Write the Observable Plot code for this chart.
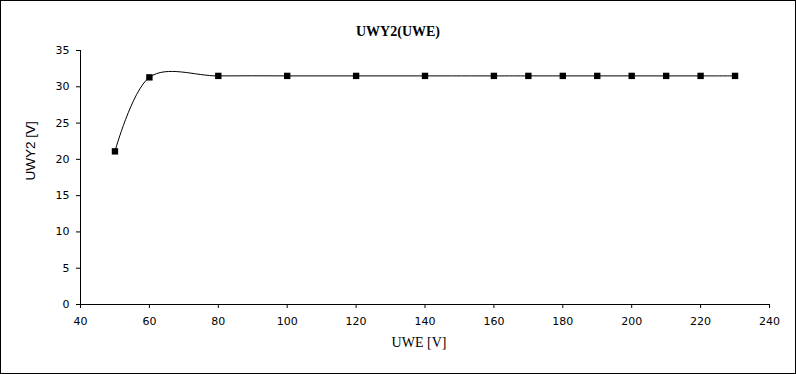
<!DOCTYPE html>
<html>
<head>
<meta charset="utf-8">
<script src="https://cdn.jsdelivr.net/npm/d3@7"></script>
<script src="https://cdn.jsdelivr.net/npm/@observablehq/plot@0.6"></script>
<style>
  html, body { margin: 0; padding: 0; background: #fff; }
  #frame { width: 794px; height: 372px; border: 1px solid #000; background: #fff; overflow: hidden; }
  #frame svg { display: block; }
</style>
</head>
<body>
<div id="frame"></div>
<script>
const title = "UWY2(UWE)";
const xLabel = "UWE [V]";
const yLabel = "UWY2 [V]";
const uwe  = [50, 60, 80, 100, 120, 140, 160, 170, 180, 190, 200, 210, 220, 230];
const uwy2 = [21.1, 31.3, 31.5, 31.5, 31.5, 31.5, 31.5, 31.5, 31.5, 31.5, 31.5, 31.5, 31.5, 31.5];
const xTicks = [40, 60, 80, 100, 120, 140, 160, 180, 200, 220, 240];
const yTicks = [0, 5, 10, 15, 20, 25, 30, 35];

const data = uwe.map((x, i) => ({x, y: uwy2[i]}));

const chart = Plot.plot({
  width: 794,
  height: 372,
  marginLeft: 79,
  marginRight: 26,
  marginTop: 49,
  marginBottom: 69,
  style: {background: "#fff", color: "#000", fontFamily: "DejaVu Sans", fontSize: "11px"},
  x: {domain: [40, 240]},
  y: {domain: [0, 35]},
  marks: [
    Plot.axisX({ticks: xTicks, tickSize: 4, tickPadding: 9, label: null, stroke: "#000", fill: "#000"}),
    Plot.axisY({ticks: yTicks, tickSize: 4, tickPadding: 7, label: null, stroke: "#000", fill: "#000"}),
    Plot.ruleX([40], {stroke: "#000", strokeWidth: 1}),
    Plot.ruleY([0], {stroke: "#000", strokeWidth: 1}),
    Plot.line(data, {x: "x", y: "y", curve: "cardinal", tension: 0, stroke: "#000", strokeWidth: 1}),
    Plot.dot(data, {x: "x", y: "y", symbol: "square", r: 3.6, fill: "#000", stroke: null}),
    Plot.text([title], {frameAnchor: "top", dx: -27, dy: -24, text: d => d, fontFamily: "Liberation Serif", fontWeight: "bold", fontSize: 14, fill: "#000"}),
    Plot.text([xLabel], {frameAnchor: "bottom", dx: -6, dy: 42, text: d => d, fontFamily: "Liberation Serif", fontSize: 14, fill: "#000"}),
    Plot.text([yLabel], {frameAnchor: "left", dx: -50, dy: 3, rotate: -90, text: d => d, fontFamily: "Liberation Sans", fontSize: 13.5, fill: "#000"})
  ]
});
document.getElementById("frame").appendChild(chart);
</script>
</body>
</html>
